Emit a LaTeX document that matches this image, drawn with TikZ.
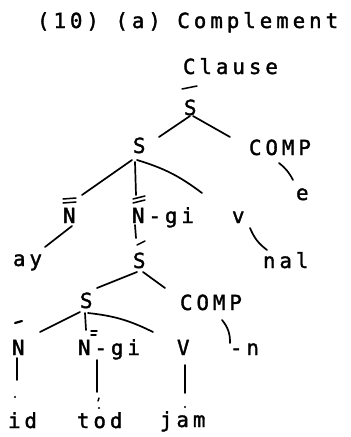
\documentclass[tikz,border=0pt]{standalone}
\usepackage{fontspec}
\newfontfamily\tw[LetterSpace=19,FakeBold=1.6]{DejaVu Sans Mono}
\begin{document}
\begin{tikzpicture}[x=1pt,y=-1pt,
  lbl/.style={anchor=base west,inner sep=0pt,outer sep=0pt,font=\tw\fontsize{20.8}{24}\selectfont},
  edge/.style={line width=1.7pt,line cap=round},
  barmark/.style={line width=1.5pt,line cap=round}]
\useasboundingbox (0,0) rectangle (351,437);

% labels, placed by left edge and baseline
\node[lbl] (t)   at (37,28)  {(10) (a) Complement};
\node[lbl] (cl)  at (183,74) {Clause};
\node[lbl] (sb)  at (184,115) {S};
\node[lbl] (s1)  at (133,153) {S};
\node[lbl] (c1)  at (249,155) {COMP};
\node[lbl] (e)   at (296,200) {e};
\node[lbl] (nb)  at (63,223)  {N};
\node[lbl] (ng)  at (132,223) {N-gi};
\node[lbl] (v)   at (232,223) {v};
\node[lbl] (ay)  at (13,266)  {ay};
\node[lbl] (sb2) at (133,268) {S};
\node[lbl] (nal) at (263,268) {nal};
\node[lbl] (s3)  at (80,308)  {S};
\node[lbl] (c2)  at (180,310) {COMP};
\node[lbl] (n3)  at (12,355)  {N};
\node[lbl] (ng3) at (78,355)  {N-gi};
\node[lbl] (V)   at (177,355) {V};
\node[lbl] (mn)  at (230,355) {-n};
\node[lbl] (id)  at (8,428)   {id};
\node[lbl] (tod) at (77,428)  {tod};
\node[lbl] (jam) at (160,427) {jam};

% bar levels over S and N
\draw[barmark] ([shift={(-2,-26)}]sb.base west) -- ([shift={(13,-29)}]sb.base west);
\draw[barmark] ([shift={(0,-24)}]nb.base west) -- ([shift={(13,-25)}]nb.base west);
\draw[barmark] ([shift={(0,-20)}]nb.base west) -- ([shift={(13,-21)}]nb.base west);
\draw[barmark] ([shift={(1,-24)}]ng.base west) -- ([shift={(13,-27)}]ng.base west);
\draw[barmark] ([shift={(1,-20)}]ng.base west) -- ([shift={(13,-23)}]ng.base west);
\draw[barmark] ([shift={(4,-23)}]sb2.base west) -- ([shift={(12,-27)}]sb2.base west);
\draw[line width=2.2pt,line cap=round] ([shift={(3,-32)}]n3.base west) -- ([shift={(10,-34)}]n3.base west);
\draw[barmark] ([shift={(13,-24)}]ng3.base west) -- ([shift={(19,-24)}]ng3.base west);
\draw[barmark] ([shift={(13,-20)}]ng3.base west) -- ([shift={(18,-20)}]ng3.base west);

% upper clause
\draw[edge] ([shift={(6,1)}]sb.base west) -- ([shift={(26,-16)}]s1.base west);
\draw[edge] ([shift={(9,1)}]sb.base west) -- ([shift={(-19,-18)}]c1.base west);
\draw[edge] ([shift={(30,8)}]c1.base west) to[bend left=12] ([shift={(-3,-20)}]e.base west);
\draw[edge] ([shift={(-1,7)}]s1.base west) -- ([shift={(19,-28)}]nb.base west);
\draw[edge] ([shift={(2,9)}]s1.base west) -- ([shift={(4,-28)}]ng.base west);
\draw[edge] ([shift={(4,7)}]s1.base west) to[bend left=10] ([shift={(-30,-30)}]v.base west);
\draw[edge] ([shift={(9,3)}]nb.base west) -- ([shift={(32,-19)}]ay.base west);
\draw[edge] ([shift={(3,2)}]ng.base west) -- ([shift={(3,-30)}]sb2.base west);
\draw[edge] ([shift={(18,5)}]v.base west) to[bend right=15] ([shift={(4,-18)}]nal.base west);

% embedded clause
\draw[edge] ([shift={(4,4)}]sb2.base west) -- ([shift={(17,-20)}]s3.base west);
\draw[edge] ([shift={(10,4)}]sb2.base west) -- ([shift={(-15,-22)}]c2.base west);
\draw[edge] ([shift={(0,4)}]s3.base west) -- ([shift={(28,-23)}]n3.base west);
\draw[edge] ([shift={(5,5)}]s3.base west) -- ([shift={(8,-25)}]ng3.base west);
\draw[edge] ([shift={(8,5)}]s3.base west) to[bend left=10] ([shift={(-24,-23)}]V.base west);
\draw[edge] ([shift={(42,10)}]c2.base west) to[bend left=20] ([shift={(0,-12)}]mn.base west);

% lexical items
\draw[edge] ([shift={(5,3)}]n3.base west) -- ([shift={(9,-48)}]id.base west);
\fill ([shift={(7,-31)}]id.base west) circle (1.1pt);
\draw[edge] ([shift={(19,5)}]ng3.base west) -- ([shift={(20,-36)}]tod.base west);
\draw[barmark] ([shift={(22,-30)}]tod.base west) -- ([shift={(21,-27)}]tod.base west);
\fill ([shift={(22,-20)}]tod.base west) circle (1.1pt);
\draw[edge] ([shift={(8,10)}]V.base west) -- ([shift={(25,-34)}]jam.base west);
\fill ([shift={(25,-20)}]jam.base west) circle (1.1pt);
\end{tikzpicture}
\end{document}
